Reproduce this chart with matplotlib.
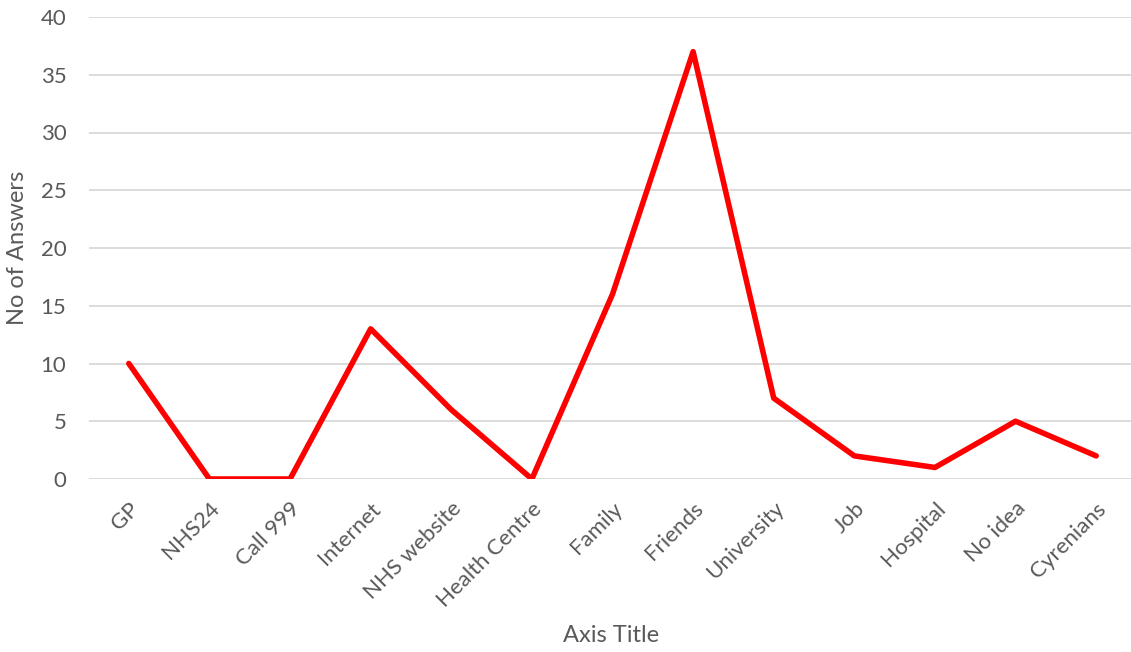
import matplotlib.pyplot as plt

sources = ['GP', 'NHS24', 'Call 999', 'Internet', 'NHS website', 'Health Centre',
           'Family', 'Friends', 'University', 'Job', 'Hospital', 'No idea', 'Cyrenians']
answers = [10, 0, 0, 13, 6, 0, 16, 37, 7, 2, 1, 5, 2]
y_ticks = [0, 5, 10, 15, 20, 25, 30, 35, 40]

plt.rcParams['font.family'] = ['Lato', 'DejaVu Sans']
text_col = '#595959'

fig = plt.figure(figsize=(11.31, 6.52), dpi=100)
ax = fig.add_axes([88.5 / 1131, 1 - 479 / 652, 1048 / 1131, 462 / 652])

x = list(range(len(sources)))
ax.plot(x, answers, color='#ff0000', lw=4, solid_joinstyle='round',
        solid_capstyle='round', zorder=3)

ax.set_xlim(-0.5, len(sources) - 0.5)
ax.set_ylim(0, 40)
ax.set_yticks(y_ticks)
ax.set_xticks(x)
ax.set_xticklabels(sources, rotation=45, ha='right', rotation_mode='anchor')
ax.tick_params(axis='both', length=0, labelsize=16, colors=text_col)
ax.tick_params(axis='y', pad=16)
ax.tick_params(axis='x', pad=14)

ax.grid(axis='y', color='#d9d9d9', lw=1.3)
ax.set_axisbelow(True)
for side in ax.spines:
    ax.spines[side].set_visible(False)

fig.text(18 / 1131, 1 - 248 / 652, 'No of Answers', fontsize=17, color=text_col,
         rotation=90, ha='center', va='center')
fig.text(611 / 1131, 1 - 636 / 652, 'Axis Title', fontsize=17, color=text_col,
         ha='center', va='center')

fig.savefig('out.png', dpi=100)
